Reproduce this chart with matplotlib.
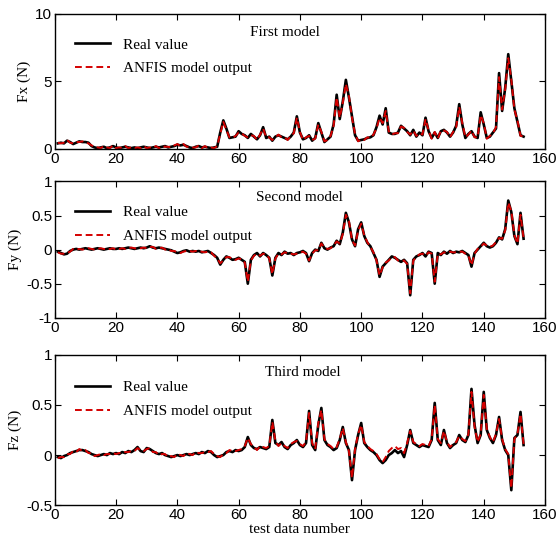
import numpy as np
import matplotlib
matplotlib.use("Agg")
import matplotlib.pyplot as plt

# ---- data (index 1..153) ----
fx_real = [
    0.40, 0.45, 0.40, 0.60, 0.50, 0.35, 0.45, 0.55, 0.50, 0.50,
    0.45, 0.20, 0.10, 0.05, 0.10, 0.15, 0.05, 0.10, 0.20, 0.10,
    0.05, 0.10, 0.15, 0.10, 0.05, 0.10, 0.05, 0.10, 0.15, 0.10,
    0.05, 0.10, 0.15, 0.10, 0.15, 0.20, 0.10, 0.15, 0.20, 0.30,
    0.25, 0.30, 0.20, 0.10, 0.05, 0.15, 0.20, 0.10, 0.15, 0.10,
    0.05, 0.10, 0.15, 1.20, 2.10, 1.50, 0.80, 0.85, 0.90, 1.30,
    1.10, 1.00, 0.80, 1.10, 0.90, 0.70, 1.00, 1.60, 0.80, 0.90,
    0.60, 0.90, 1.00, 0.90, 0.80, 0.70, 0.90, 1.20, 2.40, 1.20,
    0.70, 0.80, 1.00, 0.60, 0.80, 1.90, 1.20, 0.50, 0.70, 0.90,
    1.80, 4.00, 2.20, 3.50, 5.10, 3.80, 2.40, 1.00, 0.60, 0.65,
    0.70, 0.80, 0.85, 1.00, 1.60, 2.45, 1.80, 3.00, 1.20, 1.10,
    1.10, 1.20, 1.70, 1.50, 1.30, 1.00, 1.40, 0.90, 1.20, 1.00,
    2.30, 1.30, 0.80, 1.20, 0.80, 1.30, 1.40, 1.20, 0.90, 1.20,
    1.70, 3.30, 1.80, 0.80, 1.10, 1.30, 0.90, 0.80, 2.70, 1.80,
    0.80, 0.90, 1.20, 1.50, 5.60, 2.80, 4.50, 7.00, 5.00, 3.00,
    2.00, 1.00, 0.90,
]
fx_anfis = [
    0.45, 0.40, 0.45, 0.65, 0.45, 0.40, 0.50, 0.50, 0.55, 0.45,
    0.40, 0.25, 0.15, 0.10, 0.05, 0.20, 0.10, 0.05, 0.25, 0.05,
    0.10, 0.05, 0.20, 0.05, 0.10, 0.05, 0.10, 0.05, 0.20, 0.05,
    0.10, 0.05, 0.20, 0.05, 0.20, 0.15, 0.15, 0.10, 0.25, 0.35,
    0.20, 0.35, 0.15, 0.15, 0.10, 0.10, 0.25, 0.05, 0.20, 0.05,
    0.10, 0.05, 0.20, 1.10, 2.00, 1.40, 0.85, 0.80, 0.95, 1.20,
    1.15, 0.95, 0.85, 1.00, 0.95, 0.65, 1.05, 1.50, 0.85, 0.85,
    0.65, 0.85, 1.05, 0.85, 0.85, 0.65, 0.95, 1.15, 2.30, 1.25,
    0.65, 0.85, 0.95, 0.65, 0.75, 1.80, 1.25, 0.55, 0.65, 0.95,
    1.70, 3.80, 2.30, 3.40, 4.80, 3.90, 2.30, 1.10, 0.55, 0.70,
    0.65, 0.85, 0.80, 1.05, 1.50, 2.30, 1.90, 2.80, 1.30, 1.05,
    1.15, 1.15, 1.65, 1.55, 1.25, 1.05, 1.35, 0.95, 1.15, 1.05,
    2.20, 1.35, 0.75, 1.25, 0.75, 1.35, 1.35, 1.25, 0.85, 1.25,
    1.60, 3.10, 1.90, 0.85, 1.05, 1.35, 0.85, 0.85, 2.50, 1.90,
    0.75, 0.95, 1.15, 1.60, 5.30, 2.90, 4.40, 6.70, 5.10, 2.90,
    2.10, 0.95, 0.95,
]
fy_real = [
    -0.03, -0.05, -0.07, -0.06, -0.02, 0.00, 0.01, 0.00, 0.01, 0.02,
    0.01, 0.00, 0.01, 0.02, 0.01, 0.00, 0.01, 0.02, 0.01, 0.01,
    0.02, 0.01, 0.02, 0.03, 0.02, 0.01, 0.02, 0.03, 0.02, 0.03,
    0.05, 0.03, 0.02, 0.03, 0.02, 0.01, 0.00, -0.01, -0.03, -0.05,
    -0.04, -0.02, -0.01, -0.03, -0.02, -0.03, -0.02, -0.04, -0.03, -0.02,
    -0.05, -0.08, -0.12, -0.22, -0.15, -0.10, -0.12, -0.15, -0.14, -0.12,
    -0.15, -0.18, -0.50, -0.15, -0.08, -0.05, -0.10, -0.05, -0.08, -0.12,
    -0.38, -0.12, -0.05, -0.08, -0.03, -0.06, -0.05, -0.08, -0.05, -0.04,
    -0.02, -0.05, -0.17, -0.05, 0.00, -0.02, 0.10, 0.02, 0.00, 0.03,
    0.05, 0.13, 0.08, 0.25, 0.54, 0.40, 0.15, 0.05, 0.30, 0.40,
    0.20, 0.10, 0.05, -0.05, -0.15, -0.40, -0.25, -0.20, -0.15, -0.10,
    -0.12, -0.15, -0.18, -0.15, -0.20, -0.67, -0.15, -0.10, -0.08, -0.05,
    -0.10, -0.03, -0.05, -0.50, -0.05, -0.08, -0.03, -0.06, -0.02, -0.05,
    -0.03, -0.04, -0.02, -0.05, -0.08, -0.25, -0.05, 0.00, 0.05, 0.10,
    0.05, 0.03, 0.05, 0.10, 0.18, 0.15, 0.30, 0.72, 0.55, 0.20,
    0.08, 0.54, 0.16,
]
fy_anfis = [
    -0.04, -0.06, -0.06, -0.05, -0.03, 0.01, 0.00, 0.01, 0.00, 0.01,
    0.02, 0.01, 0.00, 0.01, 0.02, 0.01, 0.00, 0.01, 0.02, 0.00,
    0.01, 0.02, 0.01, 0.02, 0.03, 0.02, 0.01, 0.02, 0.03, 0.02,
    0.04, 0.04, 0.01, 0.02, 0.03, 0.00, 0.01, -0.02, -0.02, -0.04,
    -0.05, -0.03, -0.02, -0.02, -0.03, -0.02, -0.03, -0.03, -0.04, -0.03,
    -0.04, -0.09, -0.13, -0.20, -0.16, -0.11, -0.11, -0.14, -0.15, -0.13,
    -0.14, -0.19, -0.47, -0.16, -0.09, -0.06, -0.09, -0.06, -0.07, -0.13,
    -0.36, -0.13, -0.06, -0.07, -0.04, -0.05, -0.06, -0.07, -0.06, -0.05,
    -0.03, -0.06, -0.16, -0.06, -0.01, -0.01, 0.09, 0.03, 0.01, 0.02,
    0.06, 0.12, 0.09, 0.23, 0.51, 0.42, 0.14, 0.06, 0.28, 0.38,
    0.21, 0.11, 0.04, -0.04, -0.16, -0.38, -0.26, -0.19, -0.16, -0.11,
    -0.11, -0.16, -0.17, -0.16, -0.21, -0.64, -0.16, -0.11, -0.07, -0.06,
    -0.09, -0.04, -0.06, -0.47, -0.06, -0.07, -0.04, -0.05, -0.03, -0.04,
    -0.04, -0.03, -0.03, -0.06, -0.09, -0.23, -0.06, 0.01, 0.04, 0.09,
    0.06, 0.04, 0.06, 0.11, 0.17, 0.16, 0.28, 0.69, 0.57, 0.21,
    0.09, 0.51, 0.17,
]
fz_real = [
    -0.02, -0.03, -0.01, 0.00, 0.02, 0.03, 0.04, 0.05, 0.05, 0.04,
    0.03, 0.01, 0.00, -0.01, 0.00, 0.01, 0.00, 0.02, 0.01, 0.02,
    0.01, 0.03, 0.02, 0.04, 0.03, 0.05, 0.08, 0.04, 0.03, 0.07,
    0.06, 0.04, 0.02, 0.01, 0.02, 0.00, -0.01, -0.02, -0.01, 0.00,
    -0.01, 0.00, 0.01, 0.00, 0.01, 0.02, 0.01, 0.03, 0.02, 0.04,
    0.03, 0.00, -0.02, -0.01, 0.00, 0.03, 0.04, 0.03, 0.05, 0.04,
    0.05, 0.08, 0.18, 0.10, 0.07, 0.06, 0.08, 0.07, 0.06, 0.08,
    0.35, 0.12, 0.10, 0.13, 0.08, 0.06, 0.10, 0.12, 0.15, 0.10,
    0.08, 0.12, 0.44, 0.10, 0.05, 0.30, 0.47, 0.15, 0.10, 0.08,
    0.05, 0.07, 0.15, 0.28, 0.12, 0.05, -0.25, 0.05, 0.20, 0.32,
    0.12, 0.08, 0.05, 0.03, 0.00, -0.05, -0.08, -0.05, 0.00, 0.02,
    0.05, 0.02, 0.04, -0.02, 0.10, 0.25, 0.12, 0.10, 0.08, 0.10,
    0.09, 0.08, 0.15, 0.52, 0.15, 0.10, 0.25, 0.12, 0.07, 0.10,
    0.12, 0.20, 0.15, 0.13, 0.20, 0.66, 0.30, 0.12, 0.20, 0.63,
    0.25, 0.17, 0.12, 0.20, 0.38, 0.15, 0.05, 0.00, -0.35, 0.17,
    0.20, 0.43, 0.10,
]
fz_anfis = [
    -0.03, -0.02, -0.02, 0.01, 0.01, 0.04, 0.03, 0.06, 0.04, 0.05,
    0.02, 0.02, -0.01, 0.00, 0.01, 0.00, 0.01, 0.01, 0.02, 0.01,
    0.02, 0.02, 0.03, 0.03, 0.04, 0.04, 0.07, 0.05, 0.04, 0.06,
    0.07, 0.03, 0.03, 0.00, 0.01, 0.01, -0.02, -0.01, -0.02, 0.01,
    0.00, -0.01, 0.02, 0.01, 0.00, 0.03, 0.02, 0.02, 0.03, 0.03,
    0.04, 0.01, -0.01, -0.02, 0.01, 0.02, 0.05, 0.04, 0.04, 0.05,
    0.06, 0.09, 0.17, 0.11, 0.08, 0.05, 0.09, 0.08, 0.07, 0.09,
    0.33, 0.14, 0.09, 0.12, 0.09, 0.07, 0.11, 0.13, 0.14, 0.11,
    0.09, 0.13, 0.42, 0.12, 0.06, 0.32, 0.45, 0.16, 0.11, 0.09,
    0.06, 0.08, 0.16, 0.27, 0.13, 0.04, -0.23, 0.06, 0.21, 0.30,
    0.13, 0.09, 0.06, 0.04, 0.01, -0.04, -0.07, -0.02, 0.04, 0.07,
    0.09, 0.06, 0.07, 0.02, 0.12, 0.24, 0.13, 0.11, 0.09, 0.11,
    0.10, 0.09, 0.16, 0.50, 0.16, 0.12, 0.24, 0.13, 0.08, 0.11,
    0.13, 0.19, 0.16, 0.14, 0.21, 0.63, 0.28, 0.13, 0.21, 0.60,
    0.26, 0.18, 0.13, 0.21, 0.36, 0.16, 0.06, 0.01, -0.33, 0.16,
    0.21, 0.41, 0.11,
]

ylabels = ["Fx (N)", "Fy (N)", "Fz (N)"]
titles = ["First model", "Second model", "Third model"]
ylims = [(0, 10), (-1, 1), (-0.5, 1)]
yticks = [[0, 5, 10], [-1, -0.5, 0, 0.5, 1], [-0.5, 0, 0.5, 1]]
ytick_labels = [["0", "5", "10"], ["-1", "-0.5", "0", "0.5", "1"],
                ["-0.5", "0", "0.5", "1"]]
xticks = [0, 20, 40, 60, 80, 100, 120, 140, 160]

SERIF = "Liberation Serif"
SANS = "Liberation Sans"

x = np.arange(1, len(fx_real) + 1)
series = [(fx_real, fx_anfis), (fy_real, fy_anfis), (fz_real, fz_anfis)]

fig = plt.figure(figsize=(5.59, 5.45), dpi=100)
# axes boxes in figure fraction [left, bottom, width, height]
boxes = [
    [0.098, 0.727, 0.877, 0.248],
    [0.098, 0.417, 0.877, 0.250],
    [0.098, 0.073, 0.877, 0.276],
]
title_pos = [(0.47, 0.86), (0.50, 0.88), (0.505, 0.88)]

for i, (real, anfis) in enumerate(series):
    ax = fig.add_axes(boxes[i])
    ax.plot(x, real, color="black", lw=1.9, label="Real value")
    ax.plot(x, anfis, color="#d40000", lw=1.4, ls=(0, (3.5, 2)),
            label="ANFIS model output")
    ax.set_xlim(0, 160)
    ax.set_ylim(*ylims[i])
    ax.set_xticks(xticks)
    ax.set_xticklabels([str(t) for t in xticks], fontfamily=SANS, fontsize=11)
    ax.set_yticks(yticks[i])
    ax.set_yticklabels(ytick_labels[i], fontfamily=SANS, fontsize=11)
    ax.tick_params(direction="in", top=True, right=True, length=4, pad=2)
    ax.set_ylabel(ylabels[i], fontfamily=SERIF, fontsize=11, labelpad=3)
    ax.text(*title_pos[i], titles[i], transform=ax.transAxes, ha="center",
            va="center", fontfamily=SERIF, fontsize=11)
    ax.legend(loc="upper left", frameon=False, handlelength=2.3,
              labelspacing=0.65, borderaxespad=0.3,
              bbox_to_anchor=(0.02, 0.90),
              prop={"family": SERIF, "size": 11})
    for sp in ax.spines.values():
        sp.set_linewidth(1.0)

ax.set_xlabel("test data number", fontfamily=SERIF, fontsize=11, labelpad=1)

fig.savefig("out.png", dpi=100)
